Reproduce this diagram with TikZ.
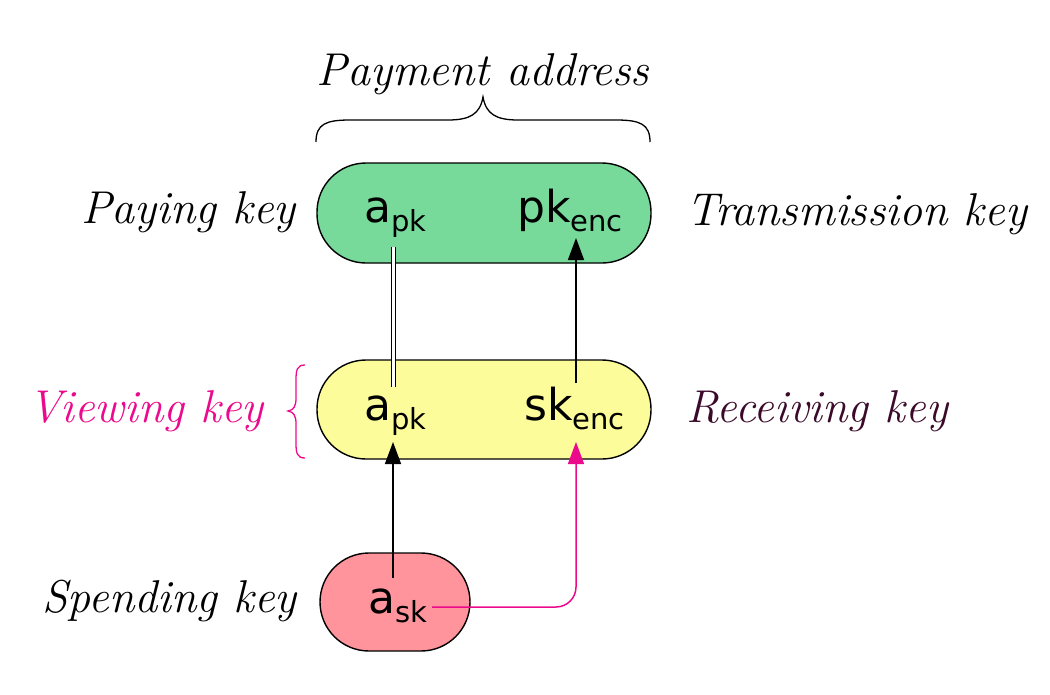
\documentclass[tikz,border=0pt]{standalone}
\usepackage{fontspec}
\newfontfamily\keyfont{DejaVu Sans}
\usetikzlibrary{arrows.meta}
\definecolor{boxgreen}{HTML}{77DA9B}
\definecolor{boxyellow}{HTML}{FCFC9A}
\definecolor{boxred}{HTML}{FF949C}
\definecolor{vpink}{HTML}{EC0A8C}
\definecolor{rpurple}{HTML}{3B0A2A}
\newcommand{\keytxt}[2]{{\keyfont\fontsize{44}{44}\selectfont #1\raisebox{-9pt}{\fontsize{29}{29}\selectfont #2}}}
\tikzset{
  keybox/.style={draw=black, line width=1.4pt, rounded corners=49pt, inner sep=0pt},
  keylabel/.style={inner sep=0pt, font=\fontsize{46}{46}\selectfont\itshape},
  keyname/.style={inner sep=0pt, anchor=base west},
  conn/.style={line width=1.5pt, -{Triangle[length=22pt,width=16pt]}},
  brace/.style={line width=1.3pt}
}
\begin{document}
\begin{tikzpicture}[x=1pt,y=-1pt]
\useasboundingbox (0,0) rectangle (1050,694);
% boxes
\node[keybox, fill=boxgreen, minimum width=334pt, minimum height=100pt] (green) at (484,213) {};
\node[keybox, fill=boxyellow, minimum width=334pt, minimum height=99pt] (yellow) at (484,409.5) {};
\node[keybox, fill=boxred, minimum width=150pt, minimum height=98pt] (red) at (395,602) {};
% key texts
\node[keyname] (apkG) at (364,222) {\keytxt{a}{pk}};
\node[keyname] (pkenc) at (517,222) {\keytxt{pk}{enc}};
\node[keyname] (apkY) at (364,420) {\keytxt{a}{pk}};
\node[keyname] (skenc) at (524,420) {\keytxt{sk}{enc}};
\node[keyname] (ask) at (368,613) {\keytxt{a}{sk}};
% connector end points
\coordinate (dTop) at (393.5,247);
\coordinate (dBot) at (393.5,387);
\coordinate (sFrom) at (576,383);
\coordinate (sTo) at (576,238);
\coordinate (aFrom) at (393,578);
\coordinate (aTo) at (393,442);
\coordinate (pFrom) at (432,607);
\coordinate (pTo) at (576,442);
% connectors
\draw[line width=1.2pt, double distance=3.5pt] (dTop) -- (dBot);
\draw[conn] (sFrom) -- (sTo);
\draw[conn] (aFrom) -- (aTo);
\draw[conn, draw=vpink, rounded corners=20pt] (pFrom) -| (pTo);
% labels
\node[keylabel, anchor=base] (pay) at (483,85) {Payment address};
\node[keylabel, anchor=base east] (payk) at (296,223) {Paying key};
\node[keylabel, anchor=base west] (trk) at (686,225) {Transmission key};
\node[keylabel, anchor=base east, text=vpink] (vk) at (264,422) {Viewing key};
\node[keylabel, anchor=base west, text=rpurple] (rk) at (686,422) {Receiving key};
\node[keylabel, anchor=base east] (sk) at (297,612) {Spending key};
% braces
\draw[brace] (316,142) .. controls (316,124) and (326,120) .. (350,120) -- (448,120) .. controls (470,120) and (480,114) .. (483,97) .. controls (486,114) and (496,120) .. (518,120) -- (616,120) .. controls (640,120) and (650,124) .. (650,142);
\draw[brace, draw=vpink] (305,365) .. controls (297,365) and (296,370) .. (296,380) -- (296,398) .. controls (296,406) and (294,410) .. (288,411) .. controls (294,412) and (296,416) .. (296,424) -- (296,443) .. controls (296,453) and (297,458) .. (305,458);
\end{tikzpicture}
\end{document}
